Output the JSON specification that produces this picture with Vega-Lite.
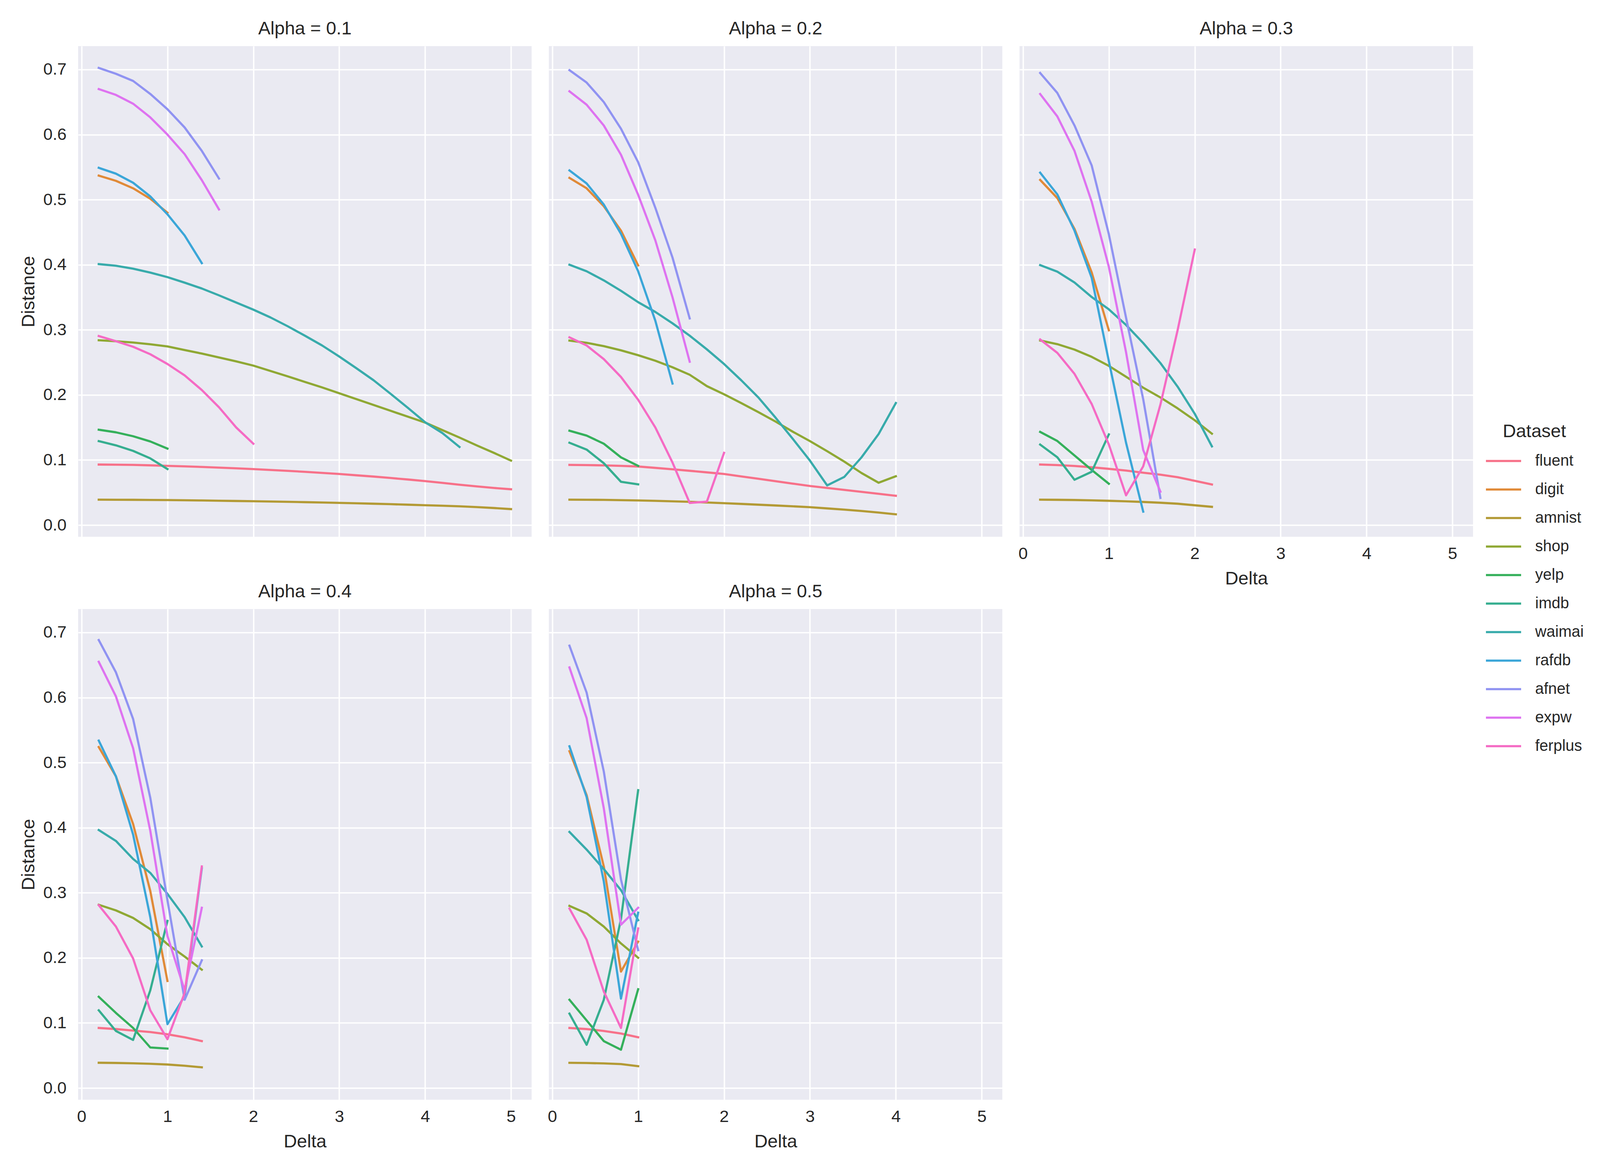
{
  "$schema": "https://vega.github.io/schema/vega-lite/v6.json",
  "padding": {"left": 49, "top": 50, "right": 5, "bottom": 5},
  "autosize": {"type": "pad"},
  "background": "white",
  "data": {"values": [
    {"Alpha": 0.1, "Dataset": "fluent", "Delta": 0.2, "Distance": 0.093},
    {"Alpha": 0.1, "Dataset": "fluent", "Delta": 0.4, "Distance": 0.0928},
    {"Alpha": 0.1, "Dataset": "fluent", "Delta": 0.6, "Distance": 0.0925},
    {"Alpha": 0.1, "Dataset": "fluent", "Delta": 0.8, "Distance": 0.0918},
    {"Alpha": 0.1, "Dataset": "fluent", "Delta": 1.0, "Distance": 0.091},
    {"Alpha": 0.1, "Dataset": "fluent", "Delta": 1.2, "Distance": 0.0902},
    {"Alpha": 0.1, "Dataset": "fluent", "Delta": 1.4, "Distance": 0.0893},
    {"Alpha": 0.1, "Dataset": "fluent", "Delta": 1.6, "Distance": 0.0883},
    {"Alpha": 0.1, "Dataset": "fluent", "Delta": 1.8, "Distance": 0.0872},
    {"Alpha": 0.1, "Dataset": "fluent", "Delta": 2.0, "Distance": 0.086},
    {"Alpha": 0.1, "Dataset": "fluent", "Delta": 2.2, "Distance": 0.0847},
    {"Alpha": 0.1, "Dataset": "fluent", "Delta": 2.4, "Distance": 0.0833},
    {"Alpha": 0.1, "Dataset": "fluent", "Delta": 2.6, "Distance": 0.0818},
    {"Alpha": 0.1, "Dataset": "fluent", "Delta": 2.8, "Distance": 0.0802},
    {"Alpha": 0.1, "Dataset": "fluent", "Delta": 3.0, "Distance": 0.0785},
    {"Alpha": 0.1, "Dataset": "fluent", "Delta": 3.2, "Distance": 0.0765},
    {"Alpha": 0.1, "Dataset": "fluent", "Delta": 3.4, "Distance": 0.0745},
    {"Alpha": 0.1, "Dataset": "fluent", "Delta": 3.6, "Distance": 0.0723},
    {"Alpha": 0.1, "Dataset": "fluent", "Delta": 3.8, "Distance": 0.07},
    {"Alpha": 0.1, "Dataset": "fluent", "Delta": 4.0, "Distance": 0.0675},
    {"Alpha": 0.1, "Dataset": "fluent", "Delta": 4.2, "Distance": 0.0648},
    {"Alpha": 0.1, "Dataset": "fluent", "Delta": 4.4, "Distance": 0.062},
    {"Alpha": 0.1, "Dataset": "fluent", "Delta": 4.6, "Distance": 0.0594},
    {"Alpha": 0.1, "Dataset": "fluent", "Delta": 4.8, "Distance": 0.057},
    {"Alpha": 0.1, "Dataset": "fluent", "Delta": 5.0, "Distance": 0.055},
    {"Alpha": 0.1, "Dataset": "digit", "Delta": 0.2, "Distance": 0.537},
    {"Alpha": 0.1, "Dataset": "digit", "Delta": 0.4, "Distance": 0.529},
    {"Alpha": 0.1, "Dataset": "digit", "Delta": 0.6, "Distance": 0.5175},
    {"Alpha": 0.1, "Dataset": "digit", "Delta": 0.8, "Distance": 0.5015},
    {"Alpha": 0.1, "Dataset": "digit", "Delta": 1.0, "Distance": 0.48},
    {"Alpha": 0.1, "Dataset": "amnist", "Delta": 0.2, "Distance": 0.039},
    {"Alpha": 0.1, "Dataset": "amnist", "Delta": 0.4, "Distance": 0.0389},
    {"Alpha": 0.1, "Dataset": "amnist", "Delta": 0.6, "Distance": 0.0388},
    {"Alpha": 0.1, "Dataset": "amnist", "Delta": 0.8, "Distance": 0.0386},
    {"Alpha": 0.1, "Dataset": "amnist", "Delta": 1.0, "Distance": 0.0384},
    {"Alpha": 0.1, "Dataset": "amnist", "Delta": 1.2, "Distance": 0.0381},
    {"Alpha": 0.1, "Dataset": "amnist", "Delta": 1.4, "Distance": 0.0378},
    {"Alpha": 0.1, "Dataset": "amnist", "Delta": 1.6, "Distance": 0.0374},
    {"Alpha": 0.1, "Dataset": "amnist", "Delta": 1.8, "Distance": 0.037},
    {"Alpha": 0.1, "Dataset": "amnist", "Delta": 2.0, "Distance": 0.0366},
    {"Alpha": 0.1, "Dataset": "amnist", "Delta": 2.2, "Distance": 0.0362},
    {"Alpha": 0.1, "Dataset": "amnist", "Delta": 2.4, "Distance": 0.0357},
    {"Alpha": 0.1, "Dataset": "amnist", "Delta": 2.6, "Distance": 0.0352},
    {"Alpha": 0.1, "Dataset": "amnist", "Delta": 2.8, "Distance": 0.0347},
    {"Alpha": 0.1, "Dataset": "amnist", "Delta": 3.0, "Distance": 0.0341},
    {"Alpha": 0.1, "Dataset": "amnist", "Delta": 3.2, "Distance": 0.0335},
    {"Alpha": 0.1, "Dataset": "amnist", "Delta": 3.4, "Distance": 0.0328},
    {"Alpha": 0.1, "Dataset": "amnist", "Delta": 3.6, "Distance": 0.0321},
    {"Alpha": 0.1, "Dataset": "amnist", "Delta": 3.8, "Distance": 0.0313},
    {"Alpha": 0.1, "Dataset": "amnist", "Delta": 4.0, "Distance": 0.0305},
    {"Alpha": 0.1, "Dataset": "amnist", "Delta": 4.2, "Distance": 0.0297},
    {"Alpha": 0.1, "Dataset": "amnist", "Delta": 4.4, "Distance": 0.0288},
    {"Alpha": 0.1, "Dataset": "amnist", "Delta": 4.6, "Distance": 0.0276},
    {"Alpha": 0.1, "Dataset": "amnist", "Delta": 4.8, "Distance": 0.0262},
    {"Alpha": 0.1, "Dataset": "amnist", "Delta": 5.0, "Distance": 0.0245},
    {"Alpha": 0.1, "Dataset": "shop", "Delta": 0.2, "Distance": 0.284},
    {"Alpha": 0.1, "Dataset": "shop", "Delta": 0.4, "Distance": 0.2825},
    {"Alpha": 0.1, "Dataset": "shop", "Delta": 0.6, "Distance": 0.2805},
    {"Alpha": 0.1, "Dataset": "shop", "Delta": 0.8, "Distance": 0.2778},
    {"Alpha": 0.1, "Dataset": "shop", "Delta": 1.0, "Distance": 0.2745},
    {"Alpha": 0.1, "Dataset": "shop", "Delta": 1.2, "Distance": 0.269},
    {"Alpha": 0.1, "Dataset": "shop", "Delta": 1.4, "Distance": 0.2635},
    {"Alpha": 0.1, "Dataset": "shop", "Delta": 1.6, "Distance": 0.2575},
    {"Alpha": 0.1, "Dataset": "shop", "Delta": 1.8, "Distance": 0.2515},
    {"Alpha": 0.1, "Dataset": "shop", "Delta": 2.0, "Distance": 0.245},
    {"Alpha": 0.1, "Dataset": "shop", "Delta": 2.2, "Distance": 0.2368},
    {"Alpha": 0.1, "Dataset": "shop", "Delta": 2.4, "Distance": 0.2285},
    {"Alpha": 0.1, "Dataset": "shop", "Delta": 2.6, "Distance": 0.22},
    {"Alpha": 0.1, "Dataset": "shop", "Delta": 2.8, "Distance": 0.2115},
    {"Alpha": 0.1, "Dataset": "shop", "Delta": 3.0, "Distance": 0.2025},
    {"Alpha": 0.1, "Dataset": "shop", "Delta": 3.2, "Distance": 0.1935},
    {"Alpha": 0.1, "Dataset": "shop", "Delta": 3.4, "Distance": 0.1845},
    {"Alpha": 0.1, "Dataset": "shop", "Delta": 3.6, "Distance": 0.1755},
    {"Alpha": 0.1, "Dataset": "shop", "Delta": 3.8, "Distance": 0.1665},
    {"Alpha": 0.1, "Dataset": "shop", "Delta": 4.0, "Distance": 0.1575},
    {"Alpha": 0.1, "Dataset": "shop", "Delta": 4.2, "Distance": 0.146},
    {"Alpha": 0.1, "Dataset": "shop", "Delta": 4.4, "Distance": 0.1345},
    {"Alpha": 0.1, "Dataset": "shop", "Delta": 4.6, "Distance": 0.1225},
    {"Alpha": 0.1, "Dataset": "shop", "Delta": 4.8, "Distance": 0.111},
    {"Alpha": 0.1, "Dataset": "shop", "Delta": 5.0, "Distance": 0.099},
    {"Alpha": 0.1, "Dataset": "yelp", "Delta": 0.2, "Distance": 0.1465},
    {"Alpha": 0.1, "Dataset": "yelp", "Delta": 0.4, "Distance": 0.1425},
    {"Alpha": 0.1, "Dataset": "yelp", "Delta": 0.6, "Distance": 0.1365},
    {"Alpha": 0.1, "Dataset": "yelp", "Delta": 0.8, "Distance": 0.1285},
    {"Alpha": 0.1, "Dataset": "yelp", "Delta": 1.0, "Distance": 0.1175},
    {"Alpha": 0.1, "Dataset": "imdb", "Delta": 0.2, "Distance": 0.129},
    {"Alpha": 0.1, "Dataset": "imdb", "Delta": 0.4, "Distance": 0.1225},
    {"Alpha": 0.1, "Dataset": "imdb", "Delta": 0.6, "Distance": 0.114},
    {"Alpha": 0.1, "Dataset": "imdb", "Delta": 0.8, "Distance": 0.1025},
    {"Alpha": 0.1, "Dataset": "imdb", "Delta": 1.0, "Distance": 0.086},
    {"Alpha": 0.1, "Dataset": "waimai", "Delta": 0.2, "Distance": 0.401},
    {"Alpha": 0.1, "Dataset": "waimai", "Delta": 0.4, "Distance": 0.3985},
    {"Alpha": 0.1, "Dataset": "waimai", "Delta": 0.6, "Distance": 0.394},
    {"Alpha": 0.1, "Dataset": "waimai", "Delta": 0.8, "Distance": 0.388},
    {"Alpha": 0.1, "Dataset": "waimai", "Delta": 1.0, "Distance": 0.381},
    {"Alpha": 0.1, "Dataset": "waimai", "Delta": 1.2, "Distance": 0.3725},
    {"Alpha": 0.1, "Dataset": "waimai", "Delta": 1.4, "Distance": 0.3635},
    {"Alpha": 0.1, "Dataset": "waimai", "Delta": 1.6, "Distance": 0.353},
    {"Alpha": 0.1, "Dataset": "waimai", "Delta": 1.8, "Distance": 0.342},
    {"Alpha": 0.1, "Dataset": "waimai", "Delta": 2.0, "Distance": 0.331},
    {"Alpha": 0.1, "Dataset": "waimai", "Delta": 2.2, "Distance": 0.319},
    {"Alpha": 0.1, "Dataset": "waimai", "Delta": 2.4, "Distance": 0.3055},
    {"Alpha": 0.1, "Dataset": "waimai", "Delta": 2.6, "Distance": 0.291},
    {"Alpha": 0.1, "Dataset": "waimai", "Delta": 2.8, "Distance": 0.276},
    {"Alpha": 0.1, "Dataset": "waimai", "Delta": 3.0, "Distance": 0.259},
    {"Alpha": 0.1, "Dataset": "waimai", "Delta": 3.2, "Distance": 0.241},
    {"Alpha": 0.1, "Dataset": "waimai", "Delta": 3.4, "Distance": 0.2225},
    {"Alpha": 0.1, "Dataset": "waimai", "Delta": 3.6, "Distance": 0.2015},
    {"Alpha": 0.1, "Dataset": "waimai", "Delta": 3.8, "Distance": 0.18},
    {"Alpha": 0.1, "Dataset": "waimai", "Delta": 4.0, "Distance": 0.158},
    {"Alpha": 0.1, "Dataset": "waimai", "Delta": 4.2, "Distance": 0.1415},
    {"Alpha": 0.1, "Dataset": "waimai", "Delta": 4.4, "Distance": 0.12},
    {"Alpha": 0.1, "Dataset": "rafdb", "Delta": 0.2, "Distance": 0.549},
    {"Alpha": 0.1, "Dataset": "rafdb", "Delta": 0.4, "Distance": 0.54},
    {"Alpha": 0.1, "Dataset": "rafdb", "Delta": 0.6, "Distance": 0.526},
    {"Alpha": 0.1, "Dataset": "rafdb", "Delta": 0.8, "Distance": 0.505},
    {"Alpha": 0.1, "Dataset": "rafdb", "Delta": 1.0, "Distance": 0.4775},
    {"Alpha": 0.1, "Dataset": "rafdb", "Delta": 1.2, "Distance": 0.445},
    {"Alpha": 0.1, "Dataset": "rafdb", "Delta": 1.4, "Distance": 0.4025},
    {"Alpha": 0.1, "Dataset": "afnet", "Delta": 0.2, "Distance": 0.7025},
    {"Alpha": 0.1, "Dataset": "afnet", "Delta": 0.4, "Distance": 0.6935},
    {"Alpha": 0.1, "Dataset": "afnet", "Delta": 0.6, "Distance": 0.6825},
    {"Alpha": 0.1, "Dataset": "afnet", "Delta": 0.8, "Distance": 0.6625},
    {"Alpha": 0.1, "Dataset": "afnet", "Delta": 1.0, "Distance": 0.639},
    {"Alpha": 0.1, "Dataset": "afnet", "Delta": 1.2, "Distance": 0.611},
    {"Alpha": 0.1, "Dataset": "afnet", "Delta": 1.4, "Distance": 0.575},
    {"Alpha": 0.1, "Dataset": "afnet", "Delta": 1.6, "Distance": 0.5325},
    {"Alpha": 0.1, "Dataset": "expw", "Delta": 0.2, "Distance": 0.67},
    {"Alpha": 0.1, "Dataset": "expw", "Delta": 0.4, "Distance": 0.661},
    {"Alpha": 0.1, "Dataset": "expw", "Delta": 0.6, "Distance": 0.6475},
    {"Alpha": 0.1, "Dataset": "expw", "Delta": 0.8, "Distance": 0.6265},
    {"Alpha": 0.1, "Dataset": "expw", "Delta": 1.0, "Distance": 0.6},
    {"Alpha": 0.1, "Dataset": "expw", "Delta": 1.2, "Distance": 0.57},
    {"Alpha": 0.1, "Dataset": "expw", "Delta": 1.4, "Distance": 0.53},
    {"Alpha": 0.1, "Dataset": "expw", "Delta": 1.6, "Distance": 0.485},
    {"Alpha": 0.1, "Dataset": "ferplus", "Delta": 0.2, "Distance": 0.2905},
    {"Alpha": 0.1, "Dataset": "ferplus", "Delta": 0.4, "Distance": 0.2825},
    {"Alpha": 0.1, "Dataset": "ferplus", "Delta": 0.6, "Distance": 0.274},
    {"Alpha": 0.1, "Dataset": "ferplus", "Delta": 0.8, "Distance": 0.2625},
    {"Alpha": 0.1, "Dataset": "ferplus", "Delta": 1.0, "Distance": 0.2475},
    {"Alpha": 0.1, "Dataset": "ferplus", "Delta": 1.2, "Distance": 0.23},
    {"Alpha": 0.1, "Dataset": "ferplus", "Delta": 1.4, "Distance": 0.2075},
    {"Alpha": 0.1, "Dataset": "ferplus", "Delta": 1.6, "Distance": 0.181},
    {"Alpha": 0.1, "Dataset": "ferplus", "Delta": 1.8, "Distance": 0.15},
    {"Alpha": 0.1, "Dataset": "ferplus", "Delta": 2.0, "Distance": 0.125},

    {"Alpha": 0.2, "Dataset": "fluent", "Delta": 0.2, "Distance": 0.0925},
    {"Alpha": 0.2, "Dataset": "fluent", "Delta": 0.4, "Distance": 0.0922},
    {"Alpha": 0.2, "Dataset": "fluent", "Delta": 0.6, "Distance": 0.0917},
    {"Alpha": 0.2, "Dataset": "fluent", "Delta": 0.8, "Distance": 0.091},
    {"Alpha": 0.2, "Dataset": "fluent", "Delta": 1.0, "Distance": 0.09},
    {"Alpha": 0.2, "Dataset": "fluent", "Delta": 1.2, "Distance": 0.0879},
    {"Alpha": 0.2, "Dataset": "fluent", "Delta": 1.4, "Distance": 0.0857},
    {"Alpha": 0.2, "Dataset": "fluent", "Delta": 1.6, "Distance": 0.0834},
    {"Alpha": 0.2, "Dataset": "fluent", "Delta": 1.8, "Distance": 0.081},
    {"Alpha": 0.2, "Dataset": "fluent", "Delta": 2.0, "Distance": 0.0785},
    {"Alpha": 0.2, "Dataset": "fluent", "Delta": 2.2, "Distance": 0.0748},
    {"Alpha": 0.2, "Dataset": "fluent", "Delta": 2.4, "Distance": 0.0711},
    {"Alpha": 0.2, "Dataset": "fluent", "Delta": 2.6, "Distance": 0.0674},
    {"Alpha": 0.2, "Dataset": "fluent", "Delta": 2.8, "Distance": 0.0637},
    {"Alpha": 0.2, "Dataset": "fluent", "Delta": 3.0, "Distance": 0.06},
    {"Alpha": 0.2, "Dataset": "fluent", "Delta": 3.2, "Distance": 0.057},
    {"Alpha": 0.2, "Dataset": "fluent", "Delta": 3.4, "Distance": 0.054},
    {"Alpha": 0.2, "Dataset": "fluent", "Delta": 3.6, "Distance": 0.051},
    {"Alpha": 0.2, "Dataset": "fluent", "Delta": 3.8, "Distance": 0.048},
    {"Alpha": 0.2, "Dataset": "fluent", "Delta": 4.0, "Distance": 0.045},
    {"Alpha": 0.2, "Dataset": "digit", "Delta": 0.2, "Distance": 0.5335},
    {"Alpha": 0.2, "Dataset": "digit", "Delta": 0.4, "Distance": 0.5175},
    {"Alpha": 0.2, "Dataset": "digit", "Delta": 0.6, "Distance": 0.49},
    {"Alpha": 0.2, "Dataset": "digit", "Delta": 0.8, "Distance": 0.4525},
    {"Alpha": 0.2, "Dataset": "digit", "Delta": 1.0, "Distance": 0.399},
    {"Alpha": 0.2, "Dataset": "amnist", "Delta": 0.2, "Distance": 0.039},
    {"Alpha": 0.2, "Dataset": "amnist", "Delta": 0.4, "Distance": 0.0389},
    {"Alpha": 0.2, "Dataset": "amnist", "Delta": 0.6, "Distance": 0.0387},
    {"Alpha": 0.2, "Dataset": "amnist", "Delta": 0.8, "Distance": 0.0383},
    {"Alpha": 0.2, "Dataset": "amnist", "Delta": 1.0, "Distance": 0.0378},
    {"Alpha": 0.2, "Dataset": "amnist", "Delta": 1.2, "Distance": 0.0372},
    {"Alpha": 0.2, "Dataset": "amnist", "Delta": 1.4, "Distance": 0.0365},
    {"Alpha": 0.2, "Dataset": "amnist", "Delta": 1.6, "Distance": 0.0357},
    {"Alpha": 0.2, "Dataset": "amnist", "Delta": 1.8, "Distance": 0.0347},
    {"Alpha": 0.2, "Dataset": "amnist", "Delta": 2.0, "Distance": 0.0336},
    {"Alpha": 0.2, "Dataset": "amnist", "Delta": 2.2, "Distance": 0.0325},
    {"Alpha": 0.2, "Dataset": "amnist", "Delta": 2.4, "Distance": 0.0313},
    {"Alpha": 0.2, "Dataset": "amnist", "Delta": 2.6, "Distance": 0.0301},
    {"Alpha": 0.2, "Dataset": "amnist", "Delta": 2.8, "Distance": 0.0288},
    {"Alpha": 0.2, "Dataset": "amnist", "Delta": 3.0, "Distance": 0.0275},
    {"Alpha": 0.2, "Dataset": "amnist", "Delta": 3.2, "Distance": 0.0256},
    {"Alpha": 0.2, "Dataset": "amnist", "Delta": 3.4, "Distance": 0.0237},
    {"Alpha": 0.2, "Dataset": "amnist", "Delta": 3.6, "Distance": 0.0216},
    {"Alpha": 0.2, "Dataset": "amnist", "Delta": 3.8, "Distance": 0.0192},
    {"Alpha": 0.2, "Dataset": "amnist", "Delta": 4.0, "Distance": 0.0165},
    {"Alpha": 0.2, "Dataset": "shop", "Delta": 0.2, "Distance": 0.2835},
    {"Alpha": 0.2, "Dataset": "shop", "Delta": 0.4, "Distance": 0.28},
    {"Alpha": 0.2, "Dataset": "shop", "Delta": 0.6, "Distance": 0.275},
    {"Alpha": 0.2, "Dataset": "shop", "Delta": 0.8, "Distance": 0.2685},
    {"Alpha": 0.2, "Dataset": "shop", "Delta": 1.0, "Distance": 0.261},
    {"Alpha": 0.2, "Dataset": "shop", "Delta": 1.2, "Distance": 0.2525},
    {"Alpha": 0.2, "Dataset": "shop", "Delta": 1.4, "Distance": 0.2425},
    {"Alpha": 0.2, "Dataset": "shop", "Delta": 1.6, "Distance": 0.231},
    {"Alpha": 0.2, "Dataset": "shop", "Delta": 1.8, "Distance": 0.2135},
    {"Alpha": 0.2, "Dataset": "shop", "Delta": 2.0, "Distance": 0.201},
    {"Alpha": 0.2, "Dataset": "shop", "Delta": 2.2, "Distance": 0.1875},
    {"Alpha": 0.2, "Dataset": "shop", "Delta": 2.4, "Distance": 0.1735},
    {"Alpha": 0.2, "Dataset": "shop", "Delta": 2.6, "Distance": 0.159},
    {"Alpha": 0.2, "Dataset": "shop", "Delta": 2.8, "Distance": 0.1435},
    {"Alpha": 0.2, "Dataset": "shop", "Delta": 3.0, "Distance": 0.129},
    {"Alpha": 0.2, "Dataset": "shop", "Delta": 3.2, "Distance": 0.1135},
    {"Alpha": 0.2, "Dataset": "shop", "Delta": 3.4, "Distance": 0.0975},
    {"Alpha": 0.2, "Dataset": "shop", "Delta": 3.6, "Distance": 0.08},
    {"Alpha": 0.2, "Dataset": "shop", "Delta": 3.8, "Distance": 0.065},
    {"Alpha": 0.2, "Dataset": "shop", "Delta": 4.0, "Distance": 0.075},
    {"Alpha": 0.2, "Dataset": "yelp", "Delta": 0.2, "Distance": 0.145},
    {"Alpha": 0.2, "Dataset": "yelp", "Delta": 0.4, "Distance": 0.1375},
    {"Alpha": 0.2, "Dataset": "yelp", "Delta": 0.6, "Distance": 0.125},
    {"Alpha": 0.2, "Dataset": "yelp", "Delta": 0.8, "Distance": 0.104},
    {"Alpha": 0.2, "Dataset": "yelp", "Delta": 1.0, "Distance": 0.091},
    {"Alpha": 0.2, "Dataset": "imdb", "Delta": 0.2, "Distance": 0.1265},
    {"Alpha": 0.2, "Dataset": "imdb", "Delta": 0.4, "Distance": 0.116},
    {"Alpha": 0.2, "Dataset": "imdb", "Delta": 0.6, "Distance": 0.095},
    {"Alpha": 0.2, "Dataset": "imdb", "Delta": 0.8, "Distance": 0.0665},
    {"Alpha": 0.2, "Dataset": "imdb", "Delta": 1.0, "Distance": 0.0625},
    {"Alpha": 0.2, "Dataset": "waimai", "Delta": 0.2, "Distance": 0.4},
    {"Alpha": 0.2, "Dataset": "waimai", "Delta": 0.4, "Distance": 0.39},
    {"Alpha": 0.2, "Dataset": "waimai", "Delta": 0.6, "Distance": 0.376},
    {"Alpha": 0.2, "Dataset": "waimai", "Delta": 0.8, "Distance": 0.36},
    {"Alpha": 0.2, "Dataset": "waimai", "Delta": 1.0, "Distance": 0.3425},
    {"Alpha": 0.2, "Dataset": "waimai", "Delta": 1.2, "Distance": 0.3275},
    {"Alpha": 0.2, "Dataset": "waimai", "Delta": 1.4, "Distance": 0.31},
    {"Alpha": 0.2, "Dataset": "waimai", "Delta": 1.6, "Distance": 0.291},
    {"Alpha": 0.2, "Dataset": "waimai", "Delta": 1.8, "Distance": 0.27},
    {"Alpha": 0.2, "Dataset": "waimai", "Delta": 2.0, "Distance": 0.2475},
    {"Alpha": 0.2, "Dataset": "waimai", "Delta": 2.2, "Distance": 0.2225},
    {"Alpha": 0.2, "Dataset": "waimai", "Delta": 2.4, "Distance": 0.196},
    {"Alpha": 0.2, "Dataset": "waimai", "Delta": 2.6, "Distance": 0.165},
    {"Alpha": 0.2, "Dataset": "waimai", "Delta": 2.8, "Distance": 0.1325},
    {"Alpha": 0.2, "Dataset": "waimai", "Delta": 3.0, "Distance": 0.099},
    {"Alpha": 0.2, "Dataset": "waimai", "Delta": 3.2, "Distance": 0.061},
    {"Alpha": 0.2, "Dataset": "waimai", "Delta": 3.4, "Distance": 0.074},
    {"Alpha": 0.2, "Dataset": "waimai", "Delta": 3.6, "Distance": 0.104},
    {"Alpha": 0.2, "Dataset": "waimai", "Delta": 3.8, "Distance": 0.14},
    {"Alpha": 0.2, "Dataset": "waimai", "Delta": 4.0, "Distance": 0.1875},
    {"Alpha": 0.2, "Dataset": "rafdb", "Delta": 0.2, "Distance": 0.545},
    {"Alpha": 0.2, "Dataset": "rafdb", "Delta": 0.4, "Distance": 0.525},
    {"Alpha": 0.2, "Dataset": "rafdb", "Delta": 0.6, "Distance": 0.4925},
    {"Alpha": 0.2, "Dataset": "rafdb", "Delta": 0.8, "Distance": 0.4475},
    {"Alpha": 0.2, "Dataset": "rafdb", "Delta": 1.0, "Distance": 0.39},
    {"Alpha": 0.2, "Dataset": "rafdb", "Delta": 1.2, "Distance": 0.314},
    {"Alpha": 0.2, "Dataset": "rafdb", "Delta": 1.4, "Distance": 0.2175},
    {"Alpha": 0.2, "Dataset": "afnet", "Delta": 0.2, "Distance": 0.699},
    {"Alpha": 0.2, "Dataset": "afnet", "Delta": 0.4, "Distance": 0.68},
    {"Alpha": 0.2, "Dataset": "afnet", "Delta": 0.6, "Distance": 0.65},
    {"Alpha": 0.2, "Dataset": "afnet", "Delta": 0.8, "Distance": 0.609},
    {"Alpha": 0.2, "Dataset": "afnet", "Delta": 1.0, "Distance": 0.5575},
    {"Alpha": 0.2, "Dataset": "afnet", "Delta": 1.2, "Distance": 0.4875},
    {"Alpha": 0.2, "Dataset": "afnet", "Delta": 1.4, "Distance": 0.411},
    {"Alpha": 0.2, "Dataset": "afnet", "Delta": 1.6, "Distance": 0.3175},
    {"Alpha": 0.2, "Dataset": "expw", "Delta": 0.2, "Distance": 0.6665},
    {"Alpha": 0.2, "Dataset": "expw", "Delta": 0.4, "Distance": 0.646},
    {"Alpha": 0.2, "Dataset": "expw", "Delta": 0.6, "Distance": 0.614},
    {"Alpha": 0.2, "Dataset": "expw", "Delta": 0.8, "Distance": 0.569},
    {"Alpha": 0.2, "Dataset": "expw", "Delta": 1.0, "Distance": 0.5075},
    {"Alpha": 0.2, "Dataset": "expw", "Delta": 1.2, "Distance": 0.4375},
    {"Alpha": 0.2, "Dataset": "expw", "Delta": 1.4, "Distance": 0.35},
    {"Alpha": 0.2, "Dataset": "expw", "Delta": 1.6, "Distance": 0.251},
    {"Alpha": 0.2, "Dataset": "ferplus", "Delta": 0.2, "Distance": 0.2885},
    {"Alpha": 0.2, "Dataset": "ferplus", "Delta": 0.4, "Distance": 0.276},
    {"Alpha": 0.2, "Dataset": "ferplus", "Delta": 0.6, "Distance": 0.255},
    {"Alpha": 0.2, "Dataset": "ferplus", "Delta": 0.8, "Distance": 0.2275},
    {"Alpha": 0.2, "Dataset": "ferplus", "Delta": 1.0, "Distance": 0.1925},
    {"Alpha": 0.2, "Dataset": "ferplus", "Delta": 1.2, "Distance": 0.15},
    {"Alpha": 0.2, "Dataset": "ferplus", "Delta": 1.4, "Distance": 0.096},
    {"Alpha": 0.2, "Dataset": "ferplus", "Delta": 1.6, "Distance": 0.034},
    {"Alpha": 0.2, "Dataset": "ferplus", "Delta": 1.8, "Distance": 0.036},
    {"Alpha": 0.2, "Dataset": "ferplus", "Delta": 2.0, "Distance": 0.111},

    {"Alpha": 0.3, "Dataset": "fluent", "Delta": 0.2, "Distance": 0.093},
    {"Alpha": 0.3, "Dataset": "fluent", "Delta": 0.4, "Distance": 0.0922},
    {"Alpha": 0.3, "Dataset": "fluent", "Delta": 0.6, "Distance": 0.0908},
    {"Alpha": 0.3, "Dataset": "fluent", "Delta": 0.8, "Distance": 0.0888},
    {"Alpha": 0.3, "Dataset": "fluent", "Delta": 1.0, "Distance": 0.0864},
    {"Alpha": 0.3, "Dataset": "fluent", "Delta": 1.2, "Distance": 0.0838},
    {"Alpha": 0.3, "Dataset": "fluent", "Delta": 1.4, "Distance": 0.0805},
    {"Alpha": 0.3, "Dataset": "fluent", "Delta": 1.6, "Distance": 0.0775},
    {"Alpha": 0.3, "Dataset": "fluent", "Delta": 1.8, "Distance": 0.0735},
    {"Alpha": 0.3, "Dataset": "fluent", "Delta": 2.0, "Distance": 0.068},
    {"Alpha": 0.3, "Dataset": "fluent", "Delta": 2.2, "Distance": 0.0624},
    {"Alpha": 0.3, "Dataset": "digit", "Delta": 0.2, "Distance": 0.5304},
    {"Alpha": 0.3, "Dataset": "digit", "Delta": 0.4, "Distance": 0.5025},
    {"Alpha": 0.3, "Dataset": "digit", "Delta": 0.6, "Distance": 0.4552},
    {"Alpha": 0.3, "Dataset": "digit", "Delta": 0.8, "Distance": 0.3883},
    {"Alpha": 0.3, "Dataset": "digit", "Delta": 1.0, "Distance": 0.2992},
    {"Alpha": 0.3, "Dataset": "amnist", "Delta": 0.2, "Distance": 0.039},
    {"Alpha": 0.3, "Dataset": "amnist", "Delta": 0.4, "Distance": 0.0388},
    {"Alpha": 0.3, "Dataset": "amnist", "Delta": 0.6, "Distance": 0.0385},
    {"Alpha": 0.3, "Dataset": "amnist", "Delta": 0.8, "Distance": 0.038},
    {"Alpha": 0.3, "Dataset": "amnist", "Delta": 1.0, "Distance": 0.0373},
    {"Alpha": 0.3, "Dataset": "amnist", "Delta": 1.2, "Distance": 0.0365},
    {"Alpha": 0.3, "Dataset": "amnist", "Delta": 1.4, "Distance": 0.0355},
    {"Alpha": 0.3, "Dataset": "amnist", "Delta": 1.6, "Distance": 0.0343},
    {"Alpha": 0.3, "Dataset": "amnist", "Delta": 1.8, "Distance": 0.0328},
    {"Alpha": 0.3, "Dataset": "amnist", "Delta": 2.0, "Distance": 0.0304},
    {"Alpha": 0.3, "Dataset": "amnist", "Delta": 2.2, "Distance": 0.028},
    {"Alpha": 0.3, "Dataset": "shop", "Delta": 0.2, "Distance": 0.2836},
    {"Alpha": 0.3, "Dataset": "shop", "Delta": 0.4, "Distance": 0.278},
    {"Alpha": 0.3, "Dataset": "shop", "Delta": 0.6, "Distance": 0.2696},
    {"Alpha": 0.3, "Dataset": "shop", "Delta": 0.8, "Distance": 0.2585},
    {"Alpha": 0.3, "Dataset": "shop", "Delta": 1.0, "Distance": 0.2446},
    {"Alpha": 0.3, "Dataset": "shop", "Delta": 1.2, "Distance": 0.2279},
    {"Alpha": 0.3, "Dataset": "shop", "Delta": 1.4, "Distance": 0.2111},
    {"Alpha": 0.3, "Dataset": "shop", "Delta": 1.6, "Distance": 0.1961},
    {"Alpha": 0.3, "Dataset": "shop", "Delta": 1.8, "Distance": 0.1794},
    {"Alpha": 0.3, "Dataset": "shop", "Delta": 2.0, "Distance": 0.161},
    {"Alpha": 0.3, "Dataset": "shop", "Delta": 2.2, "Distance": 0.1404},
    {"Alpha": 0.3, "Dataset": "yelp", "Delta": 0.2, "Distance": 0.1432},
    {"Alpha": 0.3, "Dataset": "yelp", "Delta": 0.4, "Distance": 0.1292},
    {"Alpha": 0.3, "Dataset": "yelp", "Delta": 0.6, "Distance": 0.107},
    {"Alpha": 0.3, "Dataset": "yelp", "Delta": 0.8, "Distance": 0.0847},
    {"Alpha": 0.3, "Dataset": "yelp", "Delta": 1.0, "Distance": 0.0635},
    {"Alpha": 0.3, "Dataset": "imdb", "Delta": 0.2, "Distance": 0.1237},
    {"Alpha": 0.3, "Dataset": "imdb", "Delta": 0.4, "Distance": 0.1042},
    {"Alpha": 0.3, "Dataset": "imdb", "Delta": 0.6, "Distance": 0.0696},
    {"Alpha": 0.3, "Dataset": "imdb", "Delta": 0.8, "Distance": 0.0819},
    {"Alpha": 0.3, "Dataset": "imdb", "Delta": 1.0, "Distance": 0.1393},
    {"Alpha": 0.3, "Dataset": "waimai", "Delta": 0.2, "Distance": 0.3994},
    {"Alpha": 0.3, "Dataset": "waimai", "Delta": 0.4, "Distance": 0.3894},
    {"Alpha": 0.3, "Dataset": "waimai", "Delta": 0.6, "Distance": 0.3727},
    {"Alpha": 0.3, "Dataset": "waimai", "Delta": 0.8, "Distance": 0.3504},
    {"Alpha": 0.3, "Dataset": "waimai", "Delta": 1.0, "Distance": 0.3315},
    {"Alpha": 0.3, "Dataset": "waimai", "Delta": 1.2, "Distance": 0.3075},
    {"Alpha": 0.3, "Dataset": "waimai", "Delta": 1.4, "Distance": 0.2797},
    {"Alpha": 0.3, "Dataset": "waimai", "Delta": 1.6, "Distance": 0.249},
    {"Alpha": 0.3, "Dataset": "waimai", "Delta": 1.8, "Distance": 0.2128},
    {"Alpha": 0.3, "Dataset": "waimai", "Delta": 2.0, "Distance": 0.171},
    {"Alpha": 0.3, "Dataset": "waimai", "Delta": 2.2, "Distance": 0.1209},
    {"Alpha": 0.3, "Dataset": "rafdb", "Delta": 0.2, "Distance": 0.5415},
    {"Alpha": 0.3, "Dataset": "rafdb", "Delta": 0.4, "Distance": 0.5081},
    {"Alpha": 0.3, "Dataset": "rafdb", "Delta": 0.6, "Distance": 0.4524},
    {"Alpha": 0.3, "Dataset": "rafdb", "Delta": 0.8, "Distance": 0.38},
    {"Alpha": 0.3, "Dataset": "rafdb", "Delta": 1.0, "Distance": 0.2518},
    {"Alpha": 0.3, "Dataset": "rafdb", "Delta": 1.2, "Distance": 0.1265},
    {"Alpha": 0.3, "Dataset": "rafdb", "Delta": 1.4, "Distance": 0.0206},
    {"Alpha": 0.3, "Dataset": "afnet", "Delta": 0.2, "Distance": 0.6947},
    {"Alpha": 0.3, "Dataset": "afnet", "Delta": 0.4, "Distance": 0.664},
    {"Alpha": 0.3, "Dataset": "afnet", "Delta": 0.6, "Distance": 0.614},
    {"Alpha": 0.3, "Dataset": "afnet", "Delta": 0.8, "Distance": 0.5526},
    {"Alpha": 0.3, "Dataset": "afnet", "Delta": 1.0, "Distance": 0.4468},
    {"Alpha": 0.3, "Dataset": "afnet", "Delta": 1.2, "Distance": 0.3187},
    {"Alpha": 0.3, "Dataset": "afnet", "Delta": 1.4, "Distance": 0.1933},
    {"Alpha": 0.3, "Dataset": "afnet", "Delta": 1.6, "Distance": 0.0418},
    {"Alpha": 0.3, "Dataset": "expw", "Delta": 0.2, "Distance": 0.6624},
    {"Alpha": 0.3, "Dataset": "expw", "Delta": 0.4, "Distance": 0.6279},
    {"Alpha": 0.3, "Dataset": "expw", "Delta": 0.6, "Distance": 0.5749},
    {"Alpha": 0.3, "Dataset": "expw", "Delta": 0.8, "Distance": 0.4969},
    {"Alpha": 0.3, "Dataset": "expw", "Delta": 1.0, "Distance": 0.3967},
    {"Alpha": 0.3, "Dataset": "expw", "Delta": 1.2, "Distance": 0.2657},
    {"Alpha": 0.3, "Dataset": "expw", "Delta": 1.4, "Distance": 0.1153},
    {"Alpha": 0.3, "Dataset": "expw", "Delta": 1.6, "Distance": 0.0513},
    {"Alpha": 0.3, "Dataset": "ferplus", "Delta": 0.2, "Distance": 0.2852},
    {"Alpha": 0.3, "Dataset": "ferplus", "Delta": 0.4, "Distance": 0.2646},
    {"Alpha": 0.3, "Dataset": "ferplus", "Delta": 0.6, "Distance": 0.2323},
    {"Alpha": 0.3, "Dataset": "ferplus", "Delta": 0.8, "Distance": 0.1861},
    {"Alpha": 0.3, "Dataset": "ferplus", "Delta": 1.0, "Distance": 0.1237},
    {"Alpha": 0.3, "Dataset": "ferplus", "Delta": 1.2, "Distance": 0.0457},
    {"Alpha": 0.3, "Dataset": "ferplus", "Delta": 1.4, "Distance": 0.0903},
    {"Alpha": 0.3, "Dataset": "ferplus", "Delta": 1.6, "Distance": 0.185},
    {"Alpha": 0.3, "Dataset": "ferplus", "Delta": 1.8, "Distance": 0.2992},
    {"Alpha": 0.3, "Dataset": "ferplus", "Delta": 2.0, "Distance": 0.4234},

    {"Alpha": 0.4, "Dataset": "fluent", "Delta": 0.2, "Distance": 0.0923},
    {"Alpha": 0.4, "Dataset": "fluent", "Delta": 0.4, "Distance": 0.0906},
    {"Alpha": 0.4, "Dataset": "fluent", "Delta": 0.6, "Distance": 0.0883},
    {"Alpha": 0.4, "Dataset": "fluent", "Delta": 0.8, "Distance": 0.086},
    {"Alpha": 0.4, "Dataset": "fluent", "Delta": 1.0, "Distance": 0.0825},
    {"Alpha": 0.4, "Dataset": "fluent", "Delta": 1.2, "Distance": 0.0779},
    {"Alpha": 0.4, "Dataset": "fluent", "Delta": 1.4, "Distance": 0.0721},
    {"Alpha": 0.4, "Dataset": "digit", "Delta": 0.2, "Distance": 0.524},
    {"Alpha": 0.4, "Dataset": "digit", "Delta": 0.4, "Distance": 0.4789},
    {"Alpha": 0.4, "Dataset": "digit", "Delta": 0.6, "Distance": 0.4057},
    {"Alpha": 0.4, "Dataset": "digit", "Delta": 0.8, "Distance": 0.3029},
    {"Alpha": 0.4, "Dataset": "digit", "Delta": 1.0, "Distance": 0.1645},
    {"Alpha": 0.4, "Dataset": "amnist", "Delta": 0.2, "Distance": 0.0388},
    {"Alpha": 0.4, "Dataset": "amnist", "Delta": 0.4, "Distance": 0.0385},
    {"Alpha": 0.4, "Dataset": "amnist", "Delta": 0.6, "Distance": 0.038},
    {"Alpha": 0.4, "Dataset": "amnist", "Delta": 0.8, "Distance": 0.0372},
    {"Alpha": 0.4, "Dataset": "amnist", "Delta": 1.0, "Distance": 0.0361},
    {"Alpha": 0.4, "Dataset": "amnist", "Delta": 1.2, "Distance": 0.0342},
    {"Alpha": 0.4, "Dataset": "amnist", "Delta": 1.4, "Distance": 0.0318},
    {"Alpha": 0.4, "Dataset": "shop", "Delta": 0.2, "Distance": 0.2816},
    {"Alpha": 0.4, "Dataset": "shop", "Delta": 0.4, "Distance": 0.2729},
    {"Alpha": 0.4, "Dataset": "shop", "Delta": 0.6, "Distance": 0.2614},
    {"Alpha": 0.4, "Dataset": "shop", "Delta": 0.8, "Distance": 0.2441},
    {"Alpha": 0.4, "Dataset": "shop", "Delta": 1.0, "Distance": 0.221},
    {"Alpha": 0.4, "Dataset": "shop", "Delta": 1.2, "Distance": 0.202},
    {"Alpha": 0.4, "Dataset": "shop", "Delta": 1.4, "Distance": 0.1818},
    {"Alpha": 0.4, "Dataset": "yelp", "Delta": 0.2, "Distance": 0.1402},
    {"Alpha": 0.4, "Dataset": "yelp", "Delta": 0.4, "Distance": 0.1154},
    {"Alpha": 0.4, "Dataset": "yelp", "Delta": 0.6, "Distance": 0.0923},
    {"Alpha": 0.4, "Dataset": "yelp", "Delta": 0.8, "Distance": 0.0623},
    {"Alpha": 0.4, "Dataset": "yelp", "Delta": 1.0, "Distance": 0.0606},
    {"Alpha": 0.4, "Dataset": "imdb", "Delta": 0.2, "Distance": 0.1194},
    {"Alpha": 0.4, "Dataset": "imdb", "Delta": 0.4, "Distance": 0.0877},
    {"Alpha": 0.4, "Dataset": "imdb", "Delta": 0.6, "Distance": 0.0739},
    {"Alpha": 0.4, "Dataset": "imdb", "Delta": 0.8, "Distance": 0.15},
    {"Alpha": 0.4, "Dataset": "imdb", "Delta": 1.0, "Distance": 0.2568},
    {"Alpha": 0.4, "Dataset": "waimai", "Delta": 0.2, "Distance": 0.3964},
    {"Alpha": 0.4, "Dataset": "waimai", "Delta": 0.4, "Distance": 0.3797},
    {"Alpha": 0.4, "Dataset": "waimai", "Delta": 0.6, "Distance": 0.352},
    {"Alpha": 0.4, "Dataset": "waimai", "Delta": 0.8, "Distance": 0.3306},
    {"Alpha": 0.4, "Dataset": "waimai", "Delta": 1.0, "Distance": 0.2983},
    {"Alpha": 0.4, "Dataset": "waimai", "Delta": 1.2, "Distance": 0.2626},
    {"Alpha": 0.4, "Dataset": "waimai", "Delta": 1.4, "Distance": 0.2175},
    {"Alpha": 0.4, "Dataset": "rafdb", "Delta": 0.2, "Distance": 0.5338},
    {"Alpha": 0.4, "Dataset": "rafdb", "Delta": 0.4, "Distance": 0.4789},
    {"Alpha": 0.4, "Dataset": "rafdb", "Delta": 0.6, "Distance": 0.3895},
    {"Alpha": 0.4, "Dataset": "rafdb", "Delta": 0.8, "Distance": 0.2626},
    {"Alpha": 0.4, "Dataset": "rafdb", "Delta": 1.0, "Distance": 0.0981},
    {"Alpha": 0.4, "Dataset": "rafdb", "Delta": 1.2, "Distance": 0.1414},
    {"Alpha": 0.4, "Dataset": "rafdb", "Delta": 1.4, "Distance": 0.3376},
    {"Alpha": 0.4, "Dataset": "afnet", "Delta": 0.2, "Distance": 0.6884},
    {"Alpha": 0.4, "Dataset": "afnet", "Delta": 0.4, "Distance": 0.6388},
    {"Alpha": 0.4, "Dataset": "afnet", "Delta": 0.6, "Distance": 0.5672},
    {"Alpha": 0.4, "Dataset": "afnet", "Delta": 0.8, "Distance": 0.446},
    {"Alpha": 0.4, "Dataset": "afnet", "Delta": 1.0, "Distance": 0.2885},
    {"Alpha": 0.4, "Dataset": "afnet", "Delta": 1.2, "Distance": 0.1356},
    {"Alpha": 0.4, "Dataset": "afnet", "Delta": 1.4, "Distance": 0.1962},
    {"Alpha": 0.4, "Dataset": "expw", "Delta": 0.2, "Distance": 0.6549},
    {"Alpha": 0.4, "Dataset": "expw", "Delta": 0.4, "Distance": 0.6018},
    {"Alpha": 0.4, "Dataset": "expw", "Delta": 0.6, "Distance": 0.5222},
    {"Alpha": 0.4, "Dataset": "expw", "Delta": 0.8, "Distance": 0.3953},
    {"Alpha": 0.4, "Dataset": "expw", "Delta": 1.0, "Distance": 0.2337},
    {"Alpha": 0.4, "Dataset": "expw", "Delta": 1.2, "Distance": 0.15},
    {"Alpha": 0.4, "Dataset": "expw", "Delta": 1.4, "Distance": 0.277},
    {"Alpha": 0.4, "Dataset": "ferplus", "Delta": 0.2, "Distance": 0.281},
    {"Alpha": 0.4, "Dataset": "ferplus", "Delta": 0.4, "Distance": 0.2481},
    {"Alpha": 0.4, "Dataset": "ferplus", "Delta": 0.6, "Distance": 0.1991},
    {"Alpha": 0.4, "Dataset": "ferplus", "Delta": 0.8, "Distance": 0.1194},
    {"Alpha": 0.4, "Dataset": "ferplus", "Delta": 1.0, "Distance": 0.075},
    {"Alpha": 0.4, "Dataset": "ferplus", "Delta": 1.2, "Distance": 0.146},
    {"Alpha": 0.4, "Dataset": "ferplus", "Delta": 1.4, "Distance": 0.3405},

    {"Alpha": 0.5, "Dataset": "fluent", "Delta": 0.2, "Distance": 0.0923},
    {"Alpha": 0.5, "Dataset": "fluent", "Delta": 0.4, "Distance": 0.0906},
    {"Alpha": 0.5, "Dataset": "fluent", "Delta": 0.6, "Distance": 0.0877},
    {"Alpha": 0.5, "Dataset": "fluent", "Delta": 0.8, "Distance": 0.0837},
    {"Alpha": 0.5, "Dataset": "fluent", "Delta": 1.0, "Distance": 0.0779},
    {"Alpha": 0.5, "Dataset": "digit", "Delta": 0.2, "Distance": 0.5176},
    {"Alpha": 0.5, "Dataset": "digit", "Delta": 0.4, "Distance": 0.4501},
    {"Alpha": 0.5, "Dataset": "digit", "Delta": 0.6, "Distance": 0.3405},
    {"Alpha": 0.5, "Dataset": "digit", "Delta": 0.8, "Distance": 0.1789},
    {"Alpha": 0.5, "Dataset": "digit", "Delta": 1.0, "Distance": 0.225},
    {"Alpha": 0.5, "Dataset": "amnist", "Delta": 0.2, "Distance": 0.0387},
    {"Alpha": 0.5, "Dataset": "amnist", "Delta": 0.4, "Distance": 0.0384},
    {"Alpha": 0.5, "Dataset": "amnist", "Delta": 0.6, "Distance": 0.0378},
    {"Alpha": 0.5, "Dataset": "amnist", "Delta": 0.8, "Distance": 0.0368},
    {"Alpha": 0.5, "Dataset": "amnist", "Delta": 1.0, "Distance": 0.0335},
    {"Alpha": 0.5, "Dataset": "shop", "Delta": 0.2, "Distance": 0.2799},
    {"Alpha": 0.5, "Dataset": "shop", "Delta": 0.4, "Distance": 0.2683},
    {"Alpha": 0.5, "Dataset": "shop", "Delta": 0.6, "Distance": 0.2481},
    {"Alpha": 0.5, "Dataset": "shop", "Delta": 0.8, "Distance": 0.2222},
    {"Alpha": 0.5, "Dataset": "shop", "Delta": 1.0, "Distance": 0.2002},
    {"Alpha": 0.5, "Dataset": "yelp", "Delta": 0.2, "Distance": 0.1356},
    {"Alpha": 0.5, "Dataset": "yelp", "Delta": 0.4, "Distance": 0.1039},
    {"Alpha": 0.5, "Dataset": "yelp", "Delta": 0.6, "Distance": 0.0721},
    {"Alpha": 0.5, "Dataset": "yelp", "Delta": 0.8, "Distance": 0.0589},
    {"Alpha": 0.5, "Dataset": "yelp", "Delta": 1.0, "Distance": 0.1518},
    {"Alpha": 0.5, "Dataset": "imdb", "Delta": 0.2, "Distance": 0.1143},
    {"Alpha": 0.5, "Dataset": "imdb", "Delta": 0.4, "Distance": 0.0664},
    {"Alpha": 0.5, "Dataset": "imdb", "Delta": 0.6, "Distance": 0.1356},
    {"Alpha": 0.5, "Dataset": "imdb", "Delta": 0.8, "Distance": 0.2597},
    {"Alpha": 0.5, "Dataset": "imdb", "Delta": 1.0, "Distance": 0.4576},
    {"Alpha": 0.5, "Dataset": "waimai", "Delta": 0.2, "Distance": 0.3935},
    {"Alpha": 0.5, "Dataset": "waimai", "Delta": 0.4, "Distance": 0.3664},
    {"Alpha": 0.5, "Dataset": "waimai", "Delta": 0.6, "Distance": 0.3364},
    {"Alpha": 0.5, "Dataset": "waimai", "Delta": 0.8, "Distance": 0.3041},
    {"Alpha": 0.5, "Dataset": "waimai", "Delta": 1.0, "Distance": 0.2579},
    {"Alpha": 0.5, "Dataset": "rafdb", "Delta": 0.2, "Distance": 0.5251},
    {"Alpha": 0.5, "Dataset": "rafdb", "Delta": 0.4, "Distance": 0.4472},
    {"Alpha": 0.5, "Dataset": "rafdb", "Delta": 0.6, "Distance": 0.3174},
    {"Alpha": 0.5, "Dataset": "rafdb", "Delta": 0.8, "Distance": 0.1373},
    {"Alpha": 0.5, "Dataset": "rafdb", "Delta": 1.0, "Distance": 0.2695},
    {"Alpha": 0.5, "Dataset": "afnet", "Delta": 0.2, "Distance": 0.6797},
    {"Alpha": 0.5, "Dataset": "afnet", "Delta": 0.4, "Distance": 0.6076},
    {"Alpha": 0.5, "Dataset": "afnet", "Delta": 0.6, "Distance": 0.4864},
    {"Alpha": 0.5, "Dataset": "afnet", "Delta": 0.8, "Distance": 0.3203},
    {"Alpha": 0.5, "Dataset": "afnet", "Delta": 1.0, "Distance": 0.2118},
    {"Alpha": 0.5, "Dataset": "expw", "Delta": 0.2, "Distance": 0.6463},
    {"Alpha": 0.5, "Dataset": "expw", "Delta": 0.4, "Distance": 0.5684},
    {"Alpha": 0.5, "Dataset": "expw", "Delta": 0.6, "Distance": 0.4299},
    {"Alpha": 0.5, "Dataset": "expw", "Delta": 0.8, "Distance": 0.251},
    {"Alpha": 0.5, "Dataset": "expw", "Delta": 1.0, "Distance": 0.277},
    {"Alpha": 0.5, "Dataset": "ferplus", "Delta": 0.2, "Distance": 0.2758},
    {"Alpha": 0.5, "Dataset": "ferplus", "Delta": 0.4, "Distance": 0.2279},
    {"Alpha": 0.5, "Dataset": "ferplus", "Delta": 0.6, "Distance": 0.1483},
    {"Alpha": 0.5, "Dataset": "ferplus", "Delta": 0.8, "Distance": 0.0923},
    {"Alpha": 0.5, "Dataset": "ferplus", "Delta": 1.0, "Distance": 0.2452}
  ]},
  "columns": 3,
  "bounds": "flush",
  "spacing": {"row": 185, "column": 44},
  "concat": [
    {
      "title": "Alpha = 0.1",
      "transform": [{"filter": "datum.Alpha == 0.1"}],
      "width": 1161, "height": 1256,
      "mark": {"type": "line", "strokeWidth": 5.6, "strokeJoin": "round", "strokeCap": "square"},
      "encoding": {
        "x": {"field": "Delta", "type": "quantitative", "scale": {"domain": [-0.04, 5.24], "nice": false, "zero": false}, "axis": {"values": [0, 1, 2, 3, 4, 5], "labels": false, "title": null}},
        "y": {"field": "Distance", "type": "quantitative", "title": "Distance", "scale": {"domain": [-0.018, 0.736], "nice": false, "zero": false}, "axis": {"values": [0, 0.1, 0.2, 0.3, 0.4, 0.5, 0.6, 0.7], "format": ".1f"}},
        "color": {"field": "Dataset", "type": "nominal", "title": "Dataset",
          "scale": {"domain": ["fluent", "digit", "amnist", "shop", "yelp", "imdb", "waimai", "rafdb", "afnet", "expw", "ferplus"],
                    "range": ["#f77189", "#e08a38", "#b39a35", "#8fa834", "#35b05b", "#36ae90", "#38abab", "#3ba6d8", "#9093f2", "#de73f0", "#f56bc4"]},
          "legend": {"orient": "none", "legendX": 3601, "legendY": 964}}
      }
    },
    {
      "title": "Alpha = 0.2",
      "transform": [{"filter": "datum.Alpha == 0.2"}],
      "width": 1161, "height": 1256,
      "mark": {"type": "line", "strokeWidth": 5.6, "strokeJoin": "round", "strokeCap": "square"},
      "encoding": {
        "x": {"field": "Delta", "type": "quantitative", "scale": {"domain": [-0.04, 5.24], "nice": false, "zero": false}, "axis": {"values": [0, 1, 2, 3, 4, 5], "labels": false, "title": null}},
        "y": {"field": "Distance", "type": "quantitative", "scale": {"domain": [-0.018, 0.736], "nice": false, "zero": false}, "axis": {"values": [0, 0.1, 0.2, 0.3, 0.4, 0.5, 0.6, 0.7], "labels": false, "title": null}},
        "color": {"field": "Dataset", "type": "nominal"}
      }
    },
    {
      "title": "Alpha = 0.3",
      "transform": [{"filter": "datum.Alpha == 0.3"}],
      "width": 1161, "height": 1256,
      "mark": {"type": "line", "strokeWidth": 5.6, "strokeJoin": "round", "strokeCap": "square"},
      "encoding": {
        "x": {"field": "Delta", "type": "quantitative", "title": "Delta", "scale": {"domain": [-0.04, 5.24], "nice": false, "zero": false}, "axis": {"values": [0, 1, 2, 3, 4, 5]}},
        "y": {"field": "Distance", "type": "quantitative", "scale": {"domain": [-0.018, 0.736], "nice": false, "zero": false}, "axis": {"values": [0, 0.1, 0.2, 0.3, 0.4, 0.5, 0.6, 0.7], "labels": false, "title": null}},
        "color": {"field": "Dataset", "type": "nominal"}
      }
    },
    {
      "title": "Alpha = 0.4",
      "transform": [{"filter": "datum.Alpha == 0.4"}],
      "width": 1161, "height": 1256,
      "mark": {"type": "line", "strokeWidth": 5.6, "strokeJoin": "round", "strokeCap": "square"},
      "encoding": {
        "x": {"field": "Delta", "type": "quantitative", "title": "Delta", "scale": {"domain": [-0.04, 5.24], "nice": false, "zero": false}, "axis": {"values": [0, 1, 2, 3, 4, 5]}},
        "y": {"field": "Distance", "type": "quantitative", "title": "Distance", "scale": {"domain": [-0.018, 0.736], "nice": false, "zero": false}, "axis": {"values": [0, 0.1, 0.2, 0.3, 0.4, 0.5, 0.6, 0.7], "format": ".1f"}},
        "color": {"field": "Dataset", "type": "nominal"}
      }
    },
    {
      "title": "Alpha = 0.5",
      "transform": [{"filter": "datum.Alpha == 0.5"}],
      "width": 1161, "height": 1256,
      "mark": {"type": "line", "strokeWidth": 5.6, "strokeJoin": "round", "strokeCap": "square"},
      "encoding": {
        "x": {"field": "Delta", "type": "quantitative", "title": "Delta", "scale": {"domain": [-0.04, 5.24], "nice": false, "zero": false}, "axis": {"values": [0, 1, 2, 3, 4, 5]}},
        "y": {"field": "Distance", "type": "quantitative", "scale": {"domain": [-0.018, 0.736], "nice": false, "zero": false}, "axis": {"values": [0, 0.1, 0.2, 0.3, 0.4, 0.5, 0.6, 0.7], "labels": false, "title": null}},
        "color": {"field": "Dataset", "type": "nominal"}
      }
    }
  ],
  "config": {
    "font": "Liberation Sans",
    "view": {"fill": "#EAEAF2", "stroke": null},
    "title": {
      "font": "Liberation Sans",
      "fontSize": 47,
      "fontWeight": "normal",
      "color": "#262626",
      "anchor": "middle",
      "offset": 20,
      "baseline": "alphabetic"
    },
    "axis": {
      "domain": false,
      "ticks": false,
      "tickSize": 0,
      "minExtent": 0,
      "grid": true,
      "gridColor": "white",
      "gridWidth": 3.7,
      "labelFont": "Liberation Sans",
      "labelFontSize": 43,
      "labelColor": "#262626",
      "titleFont": "Liberation Sans",
      "titleFontSize": 47,
      "titleColor": "#262626",
      "titleFontWeight": "normal"
    },
    "axisX": {"labelPadding": 22, "titlePadding": 19},
    "axisY": {"labelPadding": 30, "titlePadding": 13},
    "legend": {
      "titleFont": "Liberation Sans",
      "titleFontSize": 47,
      "titleFontWeight": "normal",
      "titleColor": "#262626",
      "titleAnchor": "middle",
      "titlePadding": 29,
      "labelFont": "Liberation Sans",
      "labelFontSize": 40,
      "labelColor": "#262626",
      "symbolType": "M-1,0H3.74",
      "symbolSize": 1444,
      "symbolStrokeWidth": 5.6,
      "labelOffset": 85,
      "rowPadding": 31
    }
  }
}
